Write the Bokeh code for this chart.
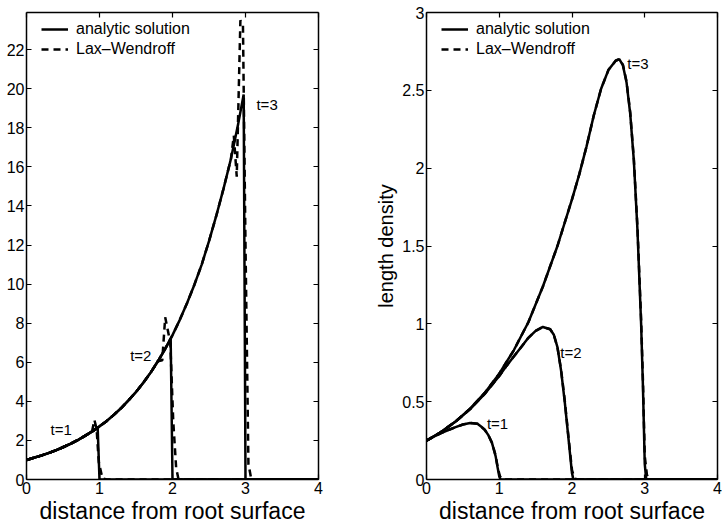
from bokeh.plotting import figure
from bokeh.models import (Range1d, LinearAxis, FixedTicker, Legend, LegendItem, Label,
                          CustomLabelingPolicy)
from bokeh.layouts import row
from bokeh.embed import file_html
from bokeh.resources import INLINE

FONT = "Liberation Sans"

# ---------------- left panel data ----------------
L_AN1_X = [0.0, 0.1, 0.2, 0.3, 0.4, 0.5, 0.6, 0.7, 0.8, 0.9, 0.975, 1.0, 4.0]
L_AN1_Y = [1.00, 1.11, 1.22, 1.35, 1.49, 1.65, 1.82, 2.01, 2.23, 2.46, 2.65, 0.0, 0.0]

L_AN2_X = [0.0, 0.1, 0.2, 0.3, 0.4, 0.5, 0.6, 0.7, 0.8, 0.9, 1.0, 1.1, 1.2, 1.3, 1.4,
           1.5, 1.6, 1.7, 1.8, 1.9, 1.975, 2.0, 4.0]
L_AN2_Y = [1.00, 1.11, 1.22, 1.35, 1.49, 1.65, 1.82, 2.01, 2.23, 2.46, 2.72, 3.00, 3.32,
           3.67, 4.06, 4.48, 4.95, 5.47, 6.05, 6.69, 7.20, 0.0, 0.0]

L_AN3_X = [0.0, 0.1, 0.2, 0.3, 0.4, 0.5, 0.6, 0.7, 0.8, 0.9, 1.0, 1.1, 1.2, 1.3, 1.4,
           1.5, 1.6, 1.7, 1.8, 1.9, 2.0, 2.1, 2.2, 2.3, 2.4, 2.5, 2.6, 2.7, 2.8, 2.9,
           2.975, 3.0, 4.0]
L_AN3_Y = [1.00, 1.11, 1.22, 1.35, 1.49, 1.65, 1.82, 2.01, 2.23, 2.46, 2.72, 3.00, 3.32,
           3.67, 4.06, 4.48, 4.95, 5.47, 6.05, 6.69, 7.39, 8.17, 9.03, 9.97, 11.0, 12.2,
           13.5, 14.9, 16.4, 18.2, 19.7, 0.0, 0.0]

L_LW1_X = [0.0, 0.1, 0.2, 0.3, 0.4, 0.5, 0.6, 0.7, 0.8, 0.85, 0.90, 0.93, 0.96, 0.99,
           1.04, 1.10, 4.0]
L_LW1_Y = [1.00, 1.11, 1.22, 1.35, 1.49, 1.65, 1.82, 2.01, 2.23, 2.34, 2.50, 3.05, 2.60,
           0.90, 0.05, 0.0, 0.0]

L_LW2_X = [0.0, 0.1, 0.2, 0.3, 0.4, 0.5, 0.6, 0.7, 0.8, 0.9, 1.0, 1.1, 1.2, 1.3, 1.4,
           1.5, 1.6, 1.7, 1.75, 1.80, 1.86, 1.90, 1.97, 2.01, 2.05, 2.08, 2.15, 4.0]
L_LW2_Y = [1.00, 1.11, 1.22, 1.35, 1.49, 1.65, 1.82, 2.01, 2.23, 2.46, 2.72, 3.00, 3.32,
           3.67, 4.06, 4.48, 4.95, 5.47, 5.75, 6.05, 6.10, 8.30, 7.00, 3.00, 0.60, 0.05,
           0.0, 0.0]

L_LW3_X = [0.0, 0.1, 0.2, 0.3, 0.4, 0.5, 0.6, 0.7, 0.8, 0.9, 1.0, 1.1, 1.2, 1.3, 1.4,
           1.5, 1.6, 1.7, 1.8, 1.9, 2.0, 2.1, 2.2, 2.3, 2.4, 2.5, 2.6, 2.7, 2.8, 2.84,
           2.88, 2.93, 2.965, 3.00, 3.04, 3.08, 4.0]
L_LW3_Y = [1.00, 1.11, 1.22, 1.35, 1.49, 1.65, 1.82, 2.01, 2.23, 2.46, 2.72, 3.00, 3.32,
           3.67, 4.06, 4.48, 4.95, 5.47, 6.05, 6.69, 7.39, 8.17, 9.03, 9.97, 11.0, 12.2,
           13.5, 14.9, 16.4, 17.6, 15.5, 23.5, 23.3, 12.0, 0.8, 0.0, 0.0]

L_YTICKS = [0, 2, 4, 6, 8, 10, 12, 14, 16, 18, 20, 22]
L_YMAX = 23.9

# ---------------- right panel data ----------------
R_AN1_X = [0.0, 0.1, 0.2, 0.3, 0.4, 0.5, 0.6, 0.7, 0.75, 0.8, 0.85, 0.9, 0.95, 0.98,
           1.0, 1.02, 4.0]
R_AN1_Y = [0.250, 0.275, 0.298, 0.318, 0.336, 0.353, 0.363, 0.358, 0.340, 0.320, 0.285,
           0.235, 0.150, 0.070, 0.020, 0.0, 0.0]

R_AN2_X = [0.0, 0.2, 0.4, 0.6, 0.8, 1.0, 1.1, 1.2, 1.3, 1.4, 1.5, 1.6, 1.7, 1.75, 1.8,
           1.85, 1.9, 1.95, 2.0, 2.02, 4.0]
R_AN2_Y = [0.250, 0.305, 0.372, 0.452, 0.550, 0.665, 0.730, 0.790, 0.850, 0.910, 0.955,
           0.980, 0.965, 0.930, 0.850, 0.700, 0.500, 0.270, 0.040, 0.0, 0.0]

R_AN3_X = [0.0, 0.2, 0.4, 0.6, 0.8, 1.0, 1.2, 1.4, 1.6, 1.8, 2.0, 2.1, 2.2, 2.3, 2.4,
           2.5, 2.6, 2.65, 2.7, 2.75, 2.8, 2.85, 2.9, 2.95, 2.975, 3.0, 3.02, 4.0]
R_AN3_Y = [0.250, 0.305, 0.373, 0.455, 0.556, 0.680, 0.830, 1.010, 1.240, 1.500, 1.800,
           1.960, 2.140, 2.340, 2.510, 2.630, 2.690, 2.700, 2.660, 2.550, 2.350, 2.050,
           1.600, 1.000, 0.600, 0.100, 0.0, 0.0]

R_LW1_X = [0.0, 0.1, 0.2, 0.3, 0.4, 0.5, 0.6, 0.7, 0.75, 0.8, 0.85, 0.9, 0.95, 0.98,
           1.01, 1.05, 4.0]
R_LW1_Y = [0.250, 0.275, 0.298, 0.318, 0.336, 0.353, 0.363, 0.358, 0.340, 0.320, 0.285,
           0.237, 0.155, 0.075, 0.020, 0.0, 0.0]

R_LW2_X = [0.0, 0.2, 0.4, 0.6, 0.8, 1.0, 1.1, 1.2, 1.3, 1.4, 1.5, 1.6, 1.7, 1.75, 1.8,
           1.85, 1.9, 1.95, 2.0, 2.03, 2.06, 4.0]
R_LW2_Y = [0.250, 0.305, 0.372, 0.452, 0.550, 0.665, 0.730, 0.790, 0.850, 0.910, 0.955,
           0.980, 0.965, 0.930, 0.850, 0.705, 0.510, 0.280, 0.060, 0.015, 0.0, 0.0]

R_LW3_X = [0.0, 0.2, 0.4, 0.6, 0.8, 1.0, 1.2, 1.4, 1.6, 1.8, 2.0, 2.1, 2.2, 2.3, 2.4,
           2.5, 2.6, 2.65, 2.7, 2.75, 2.8, 2.85, 2.9, 2.95, 2.975, 3.0, 3.03, 3.06, 4.0]
R_LW3_Y = [0.250, 0.305, 0.373, 0.455, 0.556, 0.680, 0.830, 1.010, 1.240, 1.500, 1.800,
           1.960, 2.140, 2.340, 2.510, 2.630, 2.690, 2.700, 2.665, 2.555, 2.360, 2.060,
           1.620, 1.030, 0.640, 0.150, 0.030, 0.0, 0.0]

R_YTICKS = [0, 0.5, 1, 1.5, 2, 2.5, 3]
R_YMAX = 3.0

XTICKS = [0, 1, 2, 3, 4]
XLABEL = "distance from root surface"
YLABEL_R = "length density"
LEGEND_LABELS = ["analytic solution", "Lax\u2013Wendroff"]

L_TLABELS = [("t=1", 0.33, 2.56), ("t=2", 1.42, 6.36), ("t=3", 3.15, 19.2)]
R_TLABELS = [("t=1", 0.83, 0.362), ("t=2", 1.84, 0.815), ("t=3", 2.76, 2.675)]

LW = 2.5
DASH = "7 5"
FIG_H = 526
MB_TOP = 12
MB_BOTTOM = 47


def style_axis(ax, ticks, show_labels=True):
    ax.ticker = FixedTicker(ticks=ticks)
    ax.axis_line_color = "black"
    ax.axis_line_width = 1.5
    ax.major_tick_line_color = "black"
    ax.major_tick_line_width = 1.2
    ax.major_tick_in = 5
    ax.major_tick_out = 0
    ax.minor_tick_line_color = None
    ax.major_label_text_font = FONT
    ax.major_label_text_color = "black"
    if show_labels:
        ax.major_label_text_font_size = "16px"
        ax.major_label_standoff = 2
    else:
        ax.major_label_text_font_size = "0px"
        ax.major_label_standoff = 0
        ax.major_label_policy = CustomLabelingPolicy(code="return [];")
    ax.axis_label_text_font = FONT
    ax.axis_label_text_font_style = "normal"
    ax.axis_label_text_color = "black"


def make_panel(width, ymax, yticks, curves_an, curves_lw, tlabels, ylabel,
               mb_left, mb_right):
    p = figure(width=width, height=FIG_H, output_backend="svg", toolbar_location=None,
               x_range=Range1d(0, 4), y_range=Range1d(0, ymax),
               min_border_left=mb_left, min_border_right=mb_right,
               min_border_top=MB_TOP, min_border_bottom=MB_BOTTOM)
    p.outline_line_color = None
    p.xgrid.visible = False
    p.ygrid.visible = False
    p.background_fill_color = "white"
    p.border_fill_color = "white"

    style_axis(p.xaxis[0], XTICKS)
    p.xaxis[0].axis_label = XLABEL
    p.xaxis[0].axis_label_text_font_size = "23px"
    p.xaxis[0].axis_label_standoff = 1
    style_axis(p.yaxis[0], yticks)
    if ylabel:
        p.yaxis[0].axis_label = ylabel
        p.yaxis[0].axis_label_text_font_size = "20px"
        p.yaxis[0].axis_label_standoff = 2

    top = LinearAxis()
    style_axis(top, XTICKS, show_labels=False)
    p.add_layout(top, "above")
    right = LinearAxis()
    style_axis(right, yticks, show_labels=False)
    p.add_layout(right, "right")

    an_r = []
    for xs, ys in curves_an:
        an_r.append(p.line(xs, ys, line_color="black", line_width=LW))
    lw_r = []
    for xs, ys in curves_lw:
        lw_r.append(p.line(xs, ys, line_color="black", line_width=LW, line_dash=DASH))

    for txt, x, y in tlabels:
        p.add_layout(Label(x=x, y=y, text=txt, text_font=FONT, text_font_size="15px",
                           text_color="black", text_baseline="middle", text_align="left"))

    frame_h = FIG_H - MB_TOP - MB_BOTTOM
    legend = Legend(items=[LegendItem(label=LEGEND_LABELS[0], renderers=[an_r[-1]]),
                           LegendItem(label=LEGEND_LABELS[1], renderers=[lw_r[-1]])],
                    location=(15, frame_h - 7 - 40))
    legend.label_text_font = FONT
    legend.label_text_font_size = "16px"
    legend.label_text_color = "black"
    legend.glyph_width = 27
    legend.glyph_height = 20
    legend.label_height = 20
    legend.label_standoff = 8
    legend.padding = 0
    legend.spacing = 0
    legend.margin = 0
    legend.border_line_color = None
    legend.background_fill_alpha = 0
    p.add_layout(legend)
    return p


p1 = make_panel(340, L_YMAX, L_YTICKS,
                [(L_AN1_X, L_AN1_Y), (L_AN2_X, L_AN2_Y), (L_AN3_X, L_AN3_Y)],
                [(L_LW1_X, L_LW1_Y), (L_LW2_X, L_LW2_Y), (L_LW3_X, L_LW3_Y)],
                L_TLABELS, None, 26, 22)
p2 = make_panel(382, R_YMAX, R_YTICKS,
                [(R_AN1_X, R_AN1_Y), (R_AN2_X, R_AN2_Y), (R_AN3_X, R_AN3_Y)],
                [(R_LW1_X, R_LW1_Y), (R_LW2_X, R_LW2_Y), (R_LW3_X, R_LW3_Y)],
                R_TLABELS, YLABEL_R, 86, 5)

layout = row(p1, p2)
open("out.html", "w").write(file_html(layout, INLINE))
